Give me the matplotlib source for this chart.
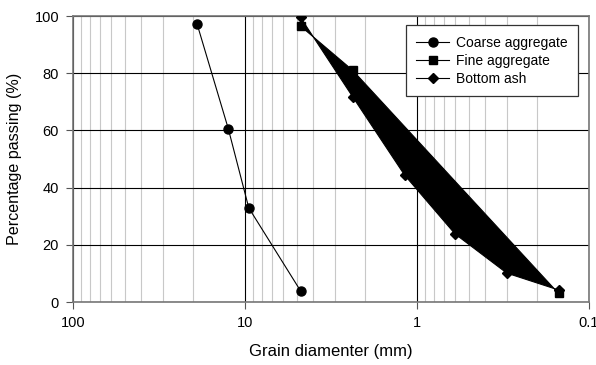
import numpy as np
import matplotlib
matplotlib.use("Agg")
import matplotlib.pyplot as plt
from matplotlib.ticker import FixedLocator, NullFormatter

plt.rcParams["font.family"] = ["Liberation Sans", "DejaVu Sans"]

# Sieve sizes (mm) and percentage passing
coarse_size = [19.0, 12.5, 9.5, 4.75]
coarse_pass = [97.3, 60.6, 32.9, 3.9]

fine_size = [4.75, 2.36, 0.15]
fine_pass = [96.5, 81.0, 3.0]

ash_size = [4.75, 2.36, 1.18, 0.6, 0.3, 0.15]
ash_pass = [99.5, 71.7, 44.4, 23.8, 10.1, 4.2]

y_ticks = [0, 20, 40, 60, 80, 100]
x_ticks = [100, 10, 1, 0.1]
x_labels = ["100", "10", "1", "0.1"]

fig = plt.figure(figsize=(5.96, 3.65), dpi=100)
ax = fig.add_axes([0.1225, 0.1726, 0.8655, 0.7834])

ax.set_xscale("log")
ax.set_xlim(100, 0.1)
ax.set_ylim(0, 100)

# grid: light minor verticals, dark majors
minor = [m * 10.0 ** e for e in (-1, 0, 1) for m in range(2, 10)]
ax.xaxis.set_minor_locator(FixedLocator(minor))
ax.xaxis.set_minor_formatter(NullFormatter())
ax.grid(which="minor", axis="x", color="#c8c8c8", lw=0.8)
ax.grid(which="major", axis="both", color="black", lw=0.8)
ax.set_axisbelow(True)

# filled band between fine aggregate and bottom ash curves
poly_x = list(fine_size) + ash_size[::-1]
poly_y = list(fine_pass) + ash_pass[::-1]
ax.fill(poly_x, poly_y, color="black", lw=0, zorder=2)

ax.plot(coarse_size, coarse_pass, "-o", color="black", lw=0.8, ms=6.5,
        label="Coarse aggregate", zorder=3)
ax.plot(fine_size, fine_pass, "-s", color="black", lw=0.8, ms=6,
        label="Fine aggregate", zorder=3)
ax.plot(ash_size, ash_pass, "-D", color="black", lw=0.8, ms=5.5,
        label="Bottom ash", zorder=3)

ax.set_xticks(x_ticks)
ax.set_xticklabels(x_labels)
ax.set_yticks(y_ticks)
ax.tick_params(axis="both", which="major", labelsize=10.5, direction="out",
               length=5, width=0.8, color="#555555", pad=5)
ax.tick_params(axis="x", which="minor", length=0)

for s in ax.spines.values():
    s.set_color("#777777")
    s.set_linewidth(1.2)

ax.set_xlabel("Grain diamenter (mm)", fontsize=12, labelpad=10)
ax.set_ylabel("Percentage passing (%)", fontsize=11.6, labelpad=9)

leg = ax.legend(loc="upper right", bbox_to_anchor=(0.9787, 0.9676),
                borderaxespad=0, fontsize=10,
                frameon=True, fancybox=False, edgecolor="#333333",
                framealpha=1, borderpad=0.75, labelspacing=0.28,
                handlelength=2.35, handletextpad=0.5)
leg.get_frame().set_linewidth(0.9)

fig.savefig("out.png", dpi=100)
